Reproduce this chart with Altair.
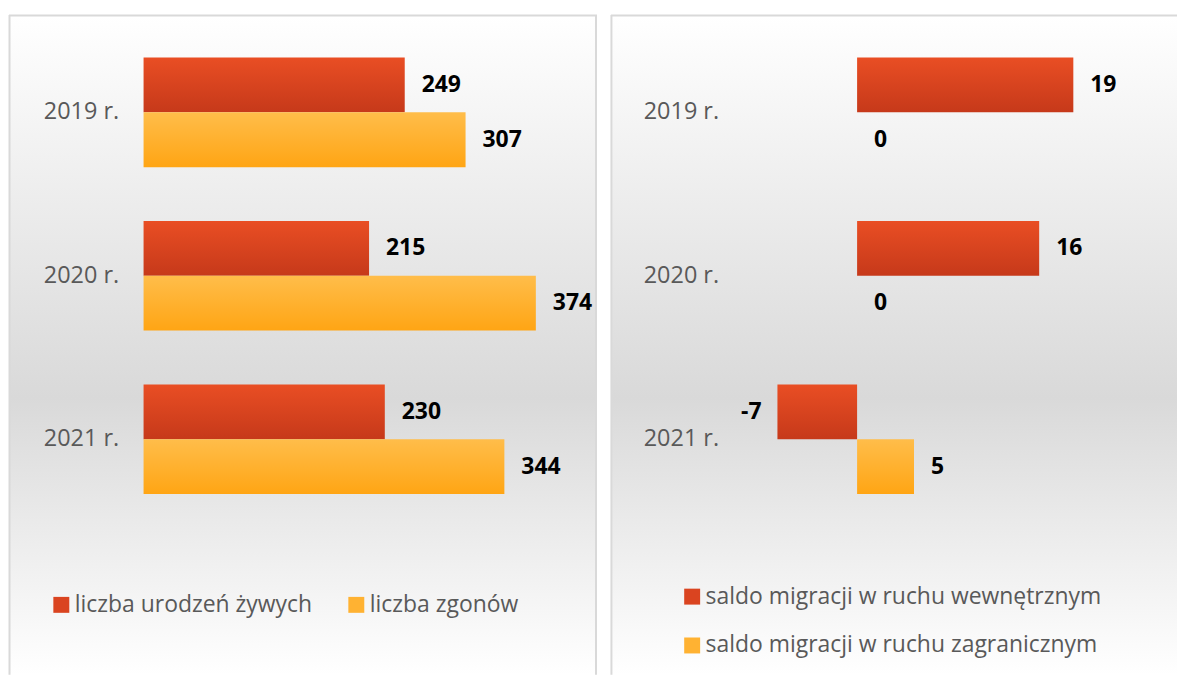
import altair as alt
import pandas as pd

# ---- data ----
years = ["2019 r.", "2020 r.", "2021 r."]
left_series = ["liczba urodzeń żywych", "liczba zgonów"]
births = [249, 215, 230]
deaths = [307, 374, 344]
right_series = ["saldo migracji w ruchu wewnętrznym", "saldo migracji w ruchu zagranicznym"]
internal_net = [19, 16, -7]
foreign_net = [0, 0, 5]

# ---- styles ----
RED_TOP, RED_BOT, RED_MID = "#E94E24", "#C6391A", "#DA4420"
YEL_TOP, YEL_BOT, YEL_MID = "#FFBD4A", "#FFA514", "#FFB232"
FONT = "Open Sans"
BORDER = "#d9d9d9"
W_LEFT, W_RIGHT, H = 590, 568, 662


def grad(top, bot):
    return alt.Gradient(
        gradient="linear", x1=0, y1=0, x2=0, y2=1,
        stops=[alt.GradientStop(color=top, offset=0), alt.GradientStop(color=bot, offset=1)],
    )


BG = alt.Gradient(
    gradient="linear", x1=0, y1=0, x2=0, y2=1,
    stops=[
        alt.GradientStop(color="#ffffff", offset=0),
        alt.GradientStop(color="#d9d9d9", offset=0.58),
        alt.GradientStop(color="#ffffff", offset=1),
    ],
)


def make_df(series, values_list):
    rows = []
    for s, vals in zip(series, values_list):
        for y, v in zip(years, vals):
            rows.append({"year": y, "series": s, "value": v, "label": str(v)})
    return pd.DataFrame(rows)


one = pd.DataFrame({"k": [0]})


def panel(df, series, domain, width, axis_offset, legend, right_border):
    base = alt.Chart(df)
    y = alt.Y(
        "year:N", sort=years,
        scale=alt.Scale(domain=years, paddingInner=0.3293, paddingOuter=0.683, align=0.19),
        axis=alt.Axis(title=None, domain=False, ticks=False, grid=False, labelPadding=0,
                      offset=axis_offset, labelFont=FONT, labelFontSize=23.5,
                      labelColor="#595959", zindex=1),
    )
    yoff = alt.YOffset("series:N", sort=series,
                       scale=alt.Scale(domain=series, paddingInner=0, paddingOuter=0))
    x = alt.X("value:Q", scale=alt.Scale(domain=domain, nice=False, zero=False), axis=None)

    bg = alt.Chart(one).mark_rect(color=BG).encode(
        x=alt.value(0), x2=alt.value("width"), y=alt.value(0), y2=alt.value("height"))

    layers = [bg]
    for s, (top, bot) in zip(series, [(RED_TOP, RED_BOT), (YEL_TOP, YEL_BOT)]):
        layers.append(
            base.transform_filter(alt.datum.series == s)
            .mark_bar(color=grad(top, bot))
            .encode(x=x, x2=alt.X2(datum=0), y=y, yOffset=yoff)
        )
    txt = dict(font=FONT, fontSize=23, fontWeight="bold", color="black", baseline="middle")
    layers.append(
        base.transform_filter(alt.datum.value >= 0)
        .mark_text(align="left", dx=17, **txt)
        .encode(x=x, y=y, yOffset=yoff, text="label:N")
    )
    layers.append(
        base.transform_filter(alt.datum.value < 0)
        .mark_text(align="right", dx=-16, **txt)
        .encode(x=x, y=y, yOffset=yoff, text="label:N")
    )
    layers.append(
        base.mark_point(shape="square", filled=True, opacity=0).encode(
            x=x, y=y, yOffset=yoff,
            color=alt.Color("series:N", sort=series,
                            scale=alt.Scale(domain=series, range=[RED_MID, YEL_MID]),
                            legend=legend),
        )
    )
    rule = dict(color=BORDER, strokeWidth=2)
    layers.append(alt.Chart(one).mark_rule(**rule).encode(
        x=alt.value(0.5), y=alt.value(0), y2=alt.value("height")))
    layers.append(alt.Chart(one).mark_rule(**rule).encode(
        y=alt.value(0.5), x=alt.value(0), x2=alt.value("width")))
    if right_border:
        layers.append(alt.Chart(one).mark_rule(**rule).encode(
            x=alt.value(width - 1), y=alt.value(0), y2=alt.value("height")))
    return alt.layer(*layers).properties(width=width, height=H)


def legend(x, y, direction):
    return alt.Legend(
        title=None, orient="none", legendX=x, legendY=y, direction=direction,
        symbolType="square", symbolSize=256, symbolOpacity=1, symbolStrokeWidth=0,
        labelFont=FONT, labelFontSize=23, labelColor="#595959", labelOffset=2,
        labelLimit=800, columnPadding=32, rowPadding=25, padding=0, zindex=1,
    )


left = panel(make_df(left_series, [births, deaths]), left_series, [-128.3, 432.3],
             W_LEFT, -110, legend(41, 580, "horizontal"), True)
right = panel(make_df(right_series, [internal_net, foreign_net]), right_series, [-21.63, 28.11],
              W_RIGHT, -108, legend(70, 572, "vertical"), False)

chart = (
    alt.hconcat(left, right, spacing=12)
    .resolve_scale(x="independent", y="independent", color="independent", yOffset="independent")
    .resolve_legend(color="independent")
    .resolve_axis(y="independent")
    .properties(padding={"left": 0, "top": 5, "right": 0, "bottom": 0})
    .configure_view(stroke=None)
)

chart.save("out.html", embed_options={"renderer": "svg", "actions": False})
